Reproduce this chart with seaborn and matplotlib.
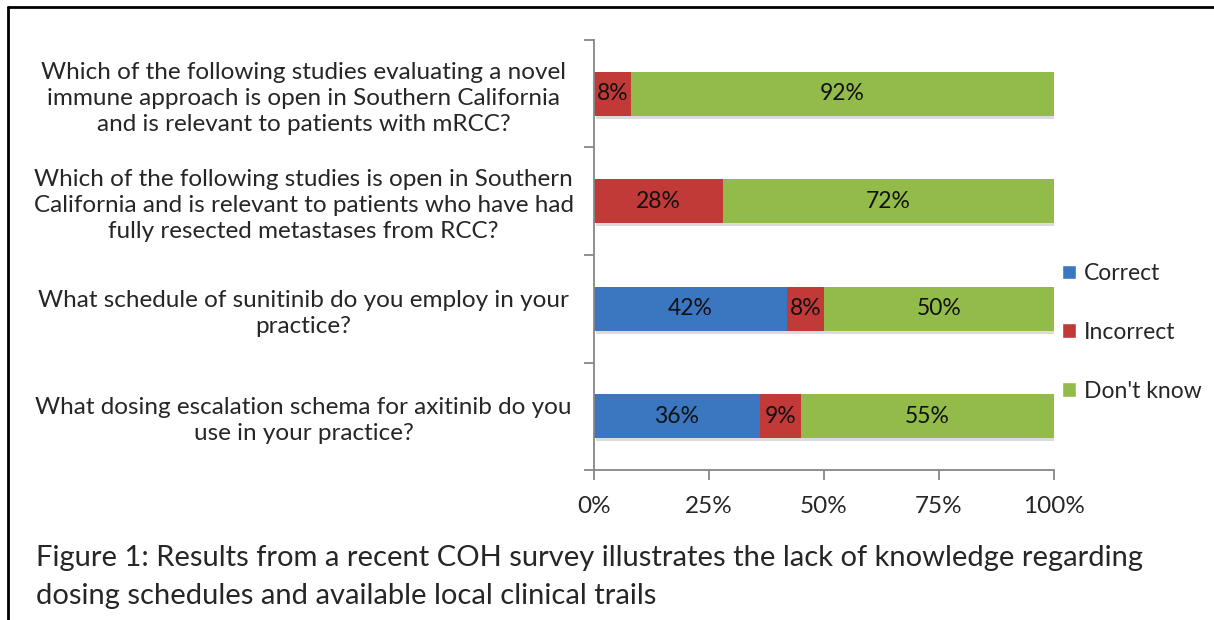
import matplotlib
matplotlib.use("Agg")
import matplotlib.pyplot as plt
import matplotlib.patheffects as pe
import seaborn as sns
import pandas as pd
from matplotlib.patches import Patch

questions = [
    "Which of the following studies evaluating a novel\nimmune approach is open in Southern California\nand is relevant to patients with mRCC?",
    "Which of the following studies is open in Southern\nCalifornia and is relevant to patients who have had\nfully resected metastases from RCC?",
    "What schedule of sunitinib do you employ in your\npractice?",
    "What dosing escalation schema for axitinib do you\nuse in your practice?",
]
correct = [0, 0, 42, 36]
incorrect = [8, 28, 8, 9]
dont_know = [92, 72, 50, 55]

series = ["Correct", "Incorrect", "Don't know"]
colors = ["#3b76c0", "#c23a38", "#93bb4a"]

sns.set_style("white")
plt.rcParams['font.family'] = ['Lato', 'DejaVu Sans']

df = pd.DataFrame({"q": questions, "Correct": correct,
                   "Incorrect": incorrect, "Don't know": dont_know})
df["c1"] = df["Correct"]
df["c2"] = df["Correct"] + df["Incorrect"]
df["c3"] = df["c2"] + df["Don't know"]

fig = plt.figure(figsize=(12.14, 6.2), dpi=100)
ax = fig.add_axes([0.4893, 0.2419, 0.3789, 0.6936])

# stacked by overdrawing cumulative totals
for col, color in zip(["c3", "c2", "c1"], colors[::-1]):
    sns.barplot(data=df, y="q", x=col, orient="h", color=color,
                width=0.41, saturation=1, ax=ax, linewidth=0)

# soft drop shadow only under the full-length bars
for p in ax.patches[:len(questions)]:
    p.set_path_effects([pe.SimplePatchShadow(offset=(1.5, -2), shadow_rgbFace="#999999", alpha=0.35), pe.Normal()])

for i, row in df.iterrows():
    left = 0
    for s in series:
        v = row[s]
        if v > 0:
            ax.text(left + v / 2, i, f"{v}%", ha="center", va="center",
                    fontsize=16.5, color="#111111")
        left += v

ax.set_xlim(0, 100)
ax.set_ylim(3.5, -0.5)
ax.set_xticks([0, 25, 50, 75, 100])
ax.set_xticklabels(["0%", "25%", "50%", "75%", "100%"], fontsize=17.5)
ax.set_yticks([0, 1, 2, 3])
ax.set_yticklabels(questions, fontsize=17.5, linespacing=1.3, ha="center")
ax.tick_params(axis="y", left=True, length=0, pad=209)
ax.set_yticks([-0.5, 0.5, 1.5, 2.5, 3.5], minor=True)
ax.tick_params(axis="y", which="minor", left=True, length=7, color="#868686", width=1.3)
ax.tick_params(axis="x", bottom=True, length=7, color="#868686", width=1.3, direction="out", pad=12)
ax.set_xlabel("")
ax.set_ylabel("")
for side in ["top", "right"]:
    ax.spines[side].set_visible(False)
for side in ["left", "bottom"]:
    ax.spines[side].set_color("#868686")
    ax.spines[side].set_linewidth(1.3)

handles = [Patch(facecolor=c, label=s) for s, c in zip(series, colors)]
fig.legend(handles=handles, loc="center left", bbox_to_anchor=(0.875, 0.464),
           frameon=False, fontsize=16.5, handlelength=0.6, handleheight=0.6,
           handletextpad=0.35, labelspacing=1.65, borderpad=0, borderaxespad=0)

fig.text(0.030, 0.069, "Figure 1: Results from a recent COH survey illustrates the lack of knowledge regarding\n"
         "dosing schedules and available local clinical trails",
         fontsize=21, va="center", ha="left", linespacing=1.55)

# page border lines (left and top)
fig.add_artist(plt.Line2D([0.0066, 0.0066], [0, 0.989], transform=fig.transFigure, color="black", lw=2))
fig.add_artist(plt.Line2D([0.0066, 1], [0.989, 0.989], transform=fig.transFigure, color="black", lw=2))

fig.savefig("out.png", dpi=100)
